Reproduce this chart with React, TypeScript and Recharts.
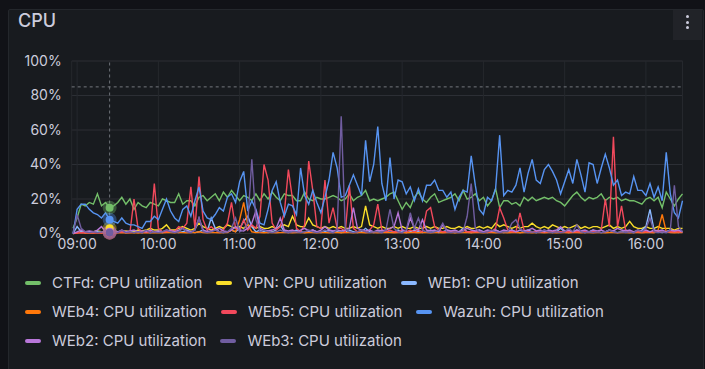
import {
  LineChart,
  Line,
  XAxis,
  YAxis,
  CartesianGrid,
  ReferenceLine,
  ReferenceDot,
} from "recharts";

// minutes after 09:00, one sample every 3 minutes starting 08:57
const START_MIN = -3;
const STEP_MIN = 3;

const ctfd = [
  3, 9, 17, 16, 18, 17, 23, 16, 18, 15, 16, 18, 21, 17, 20, 14, 18, 16, 15, 18, 17,
  16, 20, 19, 18, 18, 23, 17, 19, 19, 16, 21, 22, 19, 21, 23, 19, 24, 21, 25, 22, 19, 22,
  21, 19, 23, 19, 23, 20, 24, 21, 19, 23, 22, 22, 19, 19, 24, 20, 19, 21, 20, 20, 21, 22,
  21, 19, 20, 23, 19, 21, 22, 25, 19, 20, 19, 20, 21, 23, 24, 19, 14, 18, 15, 21, 24,
  20, 18, 21, 23, 18, 19, 20, 21, 23, 19, 25, 20, 21, 23, 19, 21, 16, 19, 26, 15, 19,
  19, 17, 18, 16, 21, 19, 21, 19, 20, 21, 20, 21, 19, 18, 16, 19, 22, 24, 21, 19, 21, 20,
  21, 23, 19, 21, 20, 21, 19, 20, 19, 19, 18, 17, 20, 21, 19, 21, 15, 24, 20, 16, 20, 23,
];

const vpn = [
  0, 0.5, 1, 0.5, 1, 1, 1.5, 1, 1, 3, 1.5, 1, 1, 1.5, 1, 1, 2, 1.5, 2, 3, 2,
  2, 3, 5, 2, 2, 3, 4, 3, 2, 3, 6, 4, 3, 2, 3, 4, 3, 5, 4, 3, 4, 3,
  5, 4, 3, 4, 3, 3, 4, 3, 4, 5, 4, 10, 5, 4, 4, 9, 5, 4, 3, 4, 3, 4,
  3, 4, 3, 3, 4, 3, 4, 16, 5, 4, 3, 4, 3, 3, 4, 3, 4, 3, 3, 4, 3,
  3, 4, 3, 4, 3, 3, 4, 3, 3, 4, 3, 4, 3, 3, 4, 3, 4, 3, 6, 4, 5,
  4, 3, 4, 3, 4, 4, 6, 4, 3, 4, 3, 5, 4, 3, 4, 3, 4, 5, 3, 4, 3, 4,
  4, 3, 4, 5, 3, 4, 3, 4, 7, 4, 3, 3, 4, 3, 3, 4, 3, 3, 3, 2, 3, 3,
];

const web1 = [
  0, 4, 1, 0.5, 1, 0.5, 1, 0.5, 1, 0.5, 1, 0.8, 1, 0.5, 1.2, 0.5, 1, 0.6, 1, 0.5, 1,
  1, 0.5, 1, 2, 1, 0.5, 1, 2, 1, 0.5, 1, 2, 1, 9, 3, 1, 0.5, 1, 2, 1, 3, 7,
  10, 4, 1, 2, 1, 0.5, 1, 2, 5, 1, 0.5, 1, 2, 1, 0.5, 1, 2, 1, 0.5, 1, 2, 1,
  1, 0.6, 1, 2, 1, 0.5, 1, 3, 1, 0.5, 1, 2, 1, 0.7, 1, 2, 1, 0.5, 1, 2, 1,
  0.5, 1, 2, 1, 0.6, 1, 2, 1, 0.5, 1, 3, 1, 0.5, 1, 2, 1, 0.5, 1, 2, 1, 0.5,
  1, 2, 1, 0.5, 1, 2, 1, 0.5, 1, 2, 1, 0.6, 1, 3, 1, 0.5, 1, 2, 1, 0.5, 1, 2,
  1, 0.5, 1, 2, 1, 0.5, 1, 2, 1, 0.5, 1, 2, 4, 14, 2, 1, 0.5, 1, 2, 1, 0.5, 1,
];

const web4 = [
  0, 0.3, 0.5, 0.3, 0.4, 0.3, 0.5, 0.3, 0.4, 0.5, 0.3, 0.4, 0.5, 0.3, 0.4, 0.5, 0.3, 0.6, 0.4, 0.5, 0.4,
  0.5, 0.4, 0.6, 0.5, 0.4, 0.7, 0.5, 0.4, 0.6, 0.5, 1, 0.5, 0.4, 0.6, 0.5, 0.4, 0.6, 0.5, 2, 1, 8, 18,
  5, 1, 0.5, 0.6, 0.4, 0.5, 0.6, 0.4, 0.5, 0.6, 0.5, 0.4, 0.6, 0.5, 0.4, 0.6, 0.5, 0.4, 0.6, 0.5, 0.4, 0.5,
  0.6, 0.4, 0.5, 0.6, 0.4, 0.5, 0.6, 0.4, 0.5, 0.6, 0.4, 0.5, 0.6, 0.5, 0.4, 0.6, 0.5, 0.4, 0.6, 0.5, 0.4,
  0.5, 0.6, 0.4, 0.5, 0.6, 0.4, 0.5, 0.6, 0.4, 0.5, 0.6, 0.5, 0.4, 0.6, 0.5, 0.4, 0.6, 0.5, 0.4, 0.6, 0.5,
  0.4, 0.6, 0.5, 0.4, 0.6, 0.5, 0.4, 0.6, 0.5, 0.4, 0.6, 0.5, 0.4, 0.6, 0.5, 0.4, 0.6, 0.5, 0.4, 0.6, 0.5, 0.4,
  0.6, 0.5, 0.4, 0.6, 0.5, 0.4, 0.6, 0.5, 0.4, 0.6, 0.5, 0.4, 0.6, 0.5, 0.4, 2, 11, 1, 0.5, 0.4, 0.6, 0.5,
];

const web5 = [
  0.3, 0.3, 0.5, 0.4, 0.5, 0.4, 0.5, 0.4, 0.5, 0.5, 0.4, 0.5, 1, 0.5, 0.6, 20, 3, 1, 0.8, 1, 29,
  3, 1, 1, 2, 1, 4, 3, 6, 27, 3, 33, 8, 2, 4, 2, 1, 2, 6, 18, 3, 2, 8,
  2, 5, 3, 10, 40, 31, 6, 2, 4, 12, 37, 20, 3, 1, 5, 42, 25, 4, 3, 31, 6, 15,
  3, 3, 1, 28, 3, 1, 2, 1, 2, 5, 17, 2, 1, 2, 1, 1, 2, 1, 2, 1, 2,
  1, 13, 15, 4, 2, 1, 1, 1, 1, 1, 2, 1, 1, 1, 1, 1, 1, 1, 3, 15, 9,
  2, 1, 1, 12, 2, 1, 1, 1, 1, 1, 1, 1, 1, 1, 1, 1, 1, 1, 1, 1, 1, 1,
  1, 2, 20, 4, 56, 4, 16, 2, 1, 1, 1, 1, 1, 1, 1, 1, 1, 1, 1, 1, 1, 1,
];

const wazuh = [
  0, 14, 17, 17, 14, 12, 11, 9, 12, 8, 7, 6, 9, 6, 5, 5, 4, 3, 7, 7, 10,
  8, 14, 20, 13, 9, 7, 14, 16, 10, 19, 27, 13, 9, 8, 11, 15, 13, 21, 23, 18, 30, 36,
  13, 19, 14, 6, 5, 14, 25, 30, 18, 10, 17, 16, 11, 38, 22, 17, 25, 18, 12, 21, 31, 47,
  38, 21, 22, 28, 34, 28, 22, 54, 30, 40, 62, 29, 19, 44, 20, 31, 30, 23, 27, 19, 26,
  19, 28, 28, 31, 25, 25, 21, 24, 14, 21, 25, 24, 45, 28, 14, 11, 21, 19, 26, 57, 22,
  25, 24, 28, 38, 24, 35, 43, 31, 29, 37, 40, 36, 31, 23, 30, 37, 29, 43, 34, 24, 41, 40,
  29, 38, 46, 38, 28, 31, 22, 24, 23, 33, 25, 25, 22, 29, 21, 27, 19, 47, 23, 12, 9, 19,
];

const web2 = [
  0, 1, 2, 1, 1.5, 1, 2, 4, 1, 1, 1.5, 1, 2, 1, 1.5, 2, 1, 1.5, 1, 2, 1,
  1.5, 1, 2, 1.5, 1, 2, 3, 1.5, 1, 2, 9, 2, 1, 1.5, 2, 3, 1.5, 1, 2, 4, 2, 1.5,
  3, 6, 13, 3, 2, 1.5, 2, 3, 9, 2, 1.5, 2, 1, 2, 3, 1.5, 2, 1, 2, 4, 2, 1.5,
  2, 1.5, 2, 3, 15, 3, 2, 1.5, 2, 1, 2, 1.5, 2, 3, 4, 12, 2, 1.5, 9, 3, 2,
  8, 2, 1.5, 2, 1, 5, 2, 1.5, 2, 1, 2, 3, 2, 1.5, 2, 1, 2, 1.5, 2, 1, 2,
  1.5, 2, 1, 2, 1.5, 2, 3, 1.5, 2, 1, 2, 1.5, 2, 4, 1.5, 2, 1, 2, 1.5, 2, 1, 2,
  1.5, 2, 1, 2, 1.5, 3, 2, 1.5, 2, 1, 2, 1.5, 2, 1, 2, 1.5, 2, 1, 2, 1.5, 2, 1,
];

const web3 = [
  0, 11, 3, 1, 0.5, 1, 0.5, 1, 0.5, 0.5, 1, 0.5, 2, 0.5, 1, 0.5, 1, 0.5, 2, 0.5, 1,
  0.5, 1, 2, 1, 0.5, 1, 3, 1, 0.5, 2, 9, 1, 0.5, 1, 2, 1, 0.5, 1, 3, 9, 1, 2,
  6, 43, 8, 1, 2, 1, 0.5, 1, 2, 1, 0.5, 1, 1, 0.5, 1, 2, 1, 0.5, 1, 2, 1, 0.5,
  2, 68, 3, 1, 0.5, 1, 2, 1, 0.5, 1, 1, 0.5, 2, 14, 3, 1, 0.5, 2, 12, 3, 9,
  2, 1, 0.5, 1, 2, 6, 1, 0.5, 1, 0.5, 1, 10, 29, 3, 1, 0.5, 1, 2, 1, 0.5, 1,
  1, 6, 8, 3, 1, 0.5, 1, 0.5, 1, 2, 1, 0.5, 1, 0.5, 1, 3, 1, 5, 1, 0.5, 1, 0.5,
  1, 0.5, 1, 2, 1, 0.5, 1, 0.5, 1, 0.5, 2, 1, 3, 9, 1, 0.5, 1, 0.5, 2, 28, 4, 1,
];

const seriesNames = [
  "CTFd: CPU utilization",
  "VPN: CPU utilization",
  "WEb1: CPU utilization",
  "WEb4: CPU utilization",
  "WEb5: CPU utilization",
  "Wazuh: CPU utilization",
  "WEb2: CPU utilization",
  "WEb3: CPU utilization",
];
const seriesColors = [
  "#73BF69",
  "#FADE2A",
  "#8AB8FF",
  "#FF780A",
  "#F2495C",
  "#5794F2",
  "#B877D9",
  "#705DA0",
];
const seriesValues = [ctfd, vpn, web1, web4, web5, wazuh, web2, web3];

const xTickMinutes = [0, 60, 120, 180, 240, 300, 360, 420];
const xTickLabels = ["09:00", "10:00", "11:00", "12:00", "13:00", "14:00", "15:00", "16:00"];
const yTicks = [0, 20, 40, 60, 80, 100];
const thresholdPct = 85;
const hoverMinute = 24;

const legendRows = [
  [0, 1, 2],
  [3, 4, 5],
  [6, 7],
];

const times = ctfd.map((_, i) => START_MIN + i * STEP_MIN);
const chartData = times.map((t, i) => {
  const row: Record<string, number> = { t };
  seriesValues.forEach((vals, s) => {
    row[`s${s}`] = vals[i];
  });
  return row;
});
const hoverIndex = times.indexOf(hoverMinute);

const TEXT = "#ccccdc";
const FONT = "Inter, 'Noto Sans', sans-serif";

export default function App() {
  return (
    <div
      style={{
        position: "fixed",
        left: 0,
        top: 0,
        width: 705,
        height: 369,
        background: "#111217",
        overflow: "hidden",
        fontFamily: FONT,
      }}
    >
      <div
        style={{
          position: "absolute",
          left: 8,
          top: 9,
          width: 694,
          height: 372,
          background: "#181b1f",
          border: "1px solid #24272c",
          borderRadius: 2,
        }}
      />
      <div
        style={{
          position: "absolute",
          left: 18,
          top: 8,
          height: 26,
          lineHeight: "26px",
          fontSize: 18,
          fontWeight: 500,
          color: TEXT,
        }}
      >
        CPU
      </div>
      {/* panel menu button */}
      <div
        style={{
          position: "absolute",
          left: 673,
          top: 10,
          width: 29,
          height: 30,
          background: "#212328",
        }}
      >
        {[5, 10.5, 16].map((top) => (
          <div
            key={top}
            style={{
              position: "absolute",
              left: 13,
              top,
              width: 3,
              height: 3,
              borderRadius: 2,
              background: TEXT,
            }}
          />
        ))}
      </div>

      <div style={{ position: "absolute", left: 0, top: 0 }}>
        <LineChart
          width={705}
          height={264}
          data={chartData}
          margin={{ top: 61, right: 22.5, left: 11.7, bottom: 0 }}
        >
          <CartesianGrid vertical={false} stroke="#2c2f35" />
          <CartesianGrid horizontal={false} stroke="#25282d" />
          <XAxis
            dataKey="t"
            type="number"
            domain={[-4, 447]}
            ticks={xTickMinutes}
            tickFormatter={(v: number) => xTickLabels[xTickMinutes.indexOf(v)]}
            axisLine={false}
            tickLine={false}
            tickSize={0}
            tickMargin={6}
            height={30.5}
            tick={{ fill: TEXT, fontSize: 14, fontFamily: FONT }}
          />
          <YAxis
            type="number"
            domain={[0, 100]}
            ticks={yTicks}
            tickFormatter={(v: number) => `${v}%`}
            axisLine={false}
            tickLine={false}
            tickSize={0}
            tickMargin={10}
            width={60}
            tick={{ fill: TEXT, fontSize: 14, fontFamily: FONT }}
          />
          <ReferenceLine
            y={thresholdPct}
            stroke="#74777e"
            strokeDasharray="3 3"
          />
          <ReferenceLine
            x={hoverMinute}
            stroke="#6e7178"
            strokeDasharray="3 3"
          />
          {seriesValues.map((_, s) => (
            <Line
              key={s}
              type="linear"
              dataKey={`s${s}`}
              name={seriesNames[s]}
              stroke={seriesColors[s]}
              strokeWidth={1.4}
              dot={false}
              isAnimationActive={false}
            />
          ))}
          {seriesValues.map((vals, s) => (
            <ReferenceDot
              key={`halo-${s}`}
              x={hoverMinute}
              y={vals[hoverIndex]}
              r={7}
              fill={seriesColors[s]}
              fillOpacity={0.35}
              stroke="none"
            />
          ))}
          {seriesValues.map((vals, s) => (
            <ReferenceDot
              key={`dot-${s}`}
              x={hoverMinute}
              y={vals[hoverIndex]}
              r={4}
              fill={seriesColors[s]}
              stroke="none"
            />
          ))}
        </LineChart>
      </div>

      {/* legend */}
      <div style={{ position: "absolute", left: 25, top: 268 }}>
        {legendRows.map((row, r) => (
          <div
            key={r}
            style={{ display: "flex", alignItems: "center", height: 29, gap: 14 }}
          >
            {row.map((s) => (
              <div key={s} style={{ display: "flex", alignItems: "center" }}>
                <div
                  style={{
                    width: 16,
                    height: 4,
                    borderRadius: 2,
                    background: seriesColors[s],
                    marginRight: 11,
                  }}
                />
                <span style={{ fontSize: 15, color: TEXT, whiteSpace: "nowrap" }}>
                  {seriesNames[s]}
                </span>
              </div>
            ))}
          </div>
        ))}
      </div>
    </div>
  );
}
